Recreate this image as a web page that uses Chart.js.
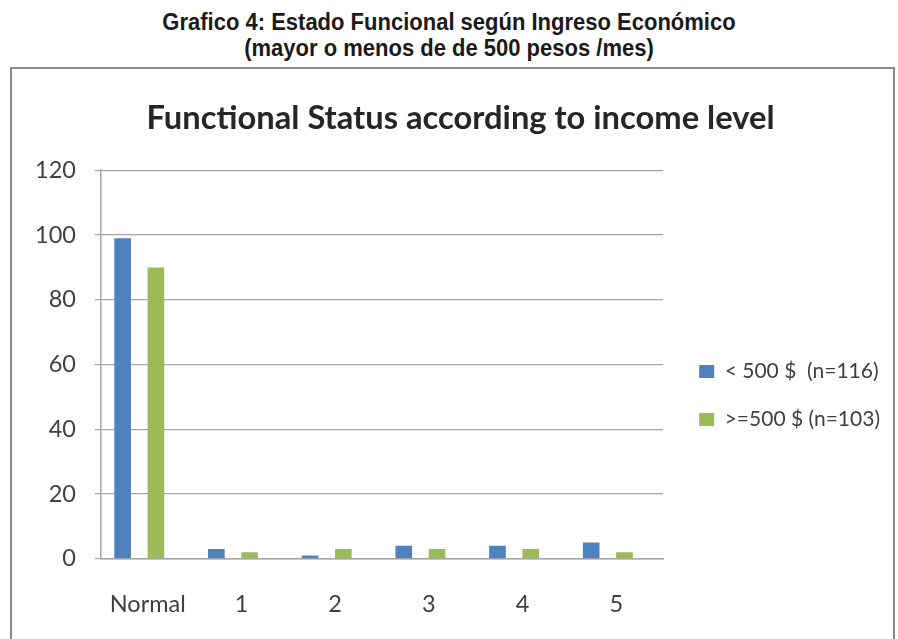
<!DOCTYPE html>
<html>
<head>
<meta charset="utf-8">
<script src="https://cdn.jsdelivr.net/npm/chart.js@4"></script>
<style>
  body { margin: 0; background: #fff; width: 898px; height: 639px; overflow: hidden; position: relative; }
  .titulo { position: absolute; left: 0; width: 898px; text-align: center; font-family: "Liberation Sans", Arial, sans-serif; font-weight: bold; font-size: 22px; line-height: 26px; color: #1a1a1a; transform: scaleY(1.08); }
  .caja { position: absolute; left: 10px; top: 67px; width: 881px; height: 600px; border: 2px solid #8a8a8a; background: #fff; }
  .caja canvas { position: absolute; left: 0; top: 0; }
</style>
</head>
<body>
<div class="titulo" style="top: 9px;">Grafico 4: Estado Funcional según Ingreso Económico</div>
<div class="titulo" style="top: 35px;">(mayor o menos de de 500 pesos /mes)</div>
<div class="caja"><canvas id="grafica" width="881" height="590"></canvas></div>
<script>
// Datos
const categorias = ["Normal", "1", "2", "3", "4", "5"];
const menos500 = [99, 3, 1, 4, 4, 5];
const mas500 = [90, 2, 3, 3, 3, 2];
const etiquetas = ["< 500 $  (n=116)", ">=500 $ (n=103)"];
const tituloGrafico = "Functional Status according to income level";

const fuente = "Lato, 'Open Sans', sans-serif";

// ajustes finos de posicion: leyenda mas abajo, titulo un poco a la izquierda
const ajustes = {
    id: 'ajustes',
    afterLayout(chart){
        chart.legend.left += 9;
        chart.legend.right += 9;
        chart.legend.top += 28;
        chart.legend.bottom += 28;
        chart.titleBlock.left += 12;
        chart.titleBlock.right += 12;
    },
    // en el original las barras quedan algo a la izquierda de su etiqueta
    beforeDatasetsDraw(chart){
        chart.ctx.save();
        chart.ctx.translate(-8.5, 0);
    },
    afterDatasetsDraw(chart){
        chart.ctx.restore();
    }
};

new Chart(document.getElementById("grafica"), {
    type: 'bar',
    data: {
        labels: categorias,
        datasets: [
            {
                label: etiquetas[0],
                data: menos500,
                backgroundColor: '#4F81BD',
                categoryPercentage: 0.71,
                barPercentage: 0.5
            },
            {
                label: etiquetas[1],
                data: mas500,
                backgroundColor: '#9BBB59',
                categoryPercentage: 0.71,
                barPercentage: 0.5
            }
        ]
    },
    options: {
        responsive: false,
        animation: false,
        layout: { padding: { left: 4, right: 12, top: 15, bottom: 8 } },
        plugins: {
            title: {
                display: true,
                text: tituloGrafico,
                color: '#262626',
                font: { family: fuente, size: 32.7 },
                padding: { top: 15, bottom: 32 }
            },
            legend: {
                position: 'right',
                align: 'center',
                maxWidth: 300,
                labels: {
                    color: '#404040',
                    font: { family: fuente, size: 21 },
                    boxWidth: 15,
                    boxHeight: 13,
                    padding: 27
                }
            },
            tooltip: { enabled: false }
        },
        scales: {
            x: {
                grid: { display: false, drawTicks: false },
                border: { color: '#a6a6a6', width: 1.5 },
                ticks: { color: '#404040', font: { family: fuente, size: 23.5 }, padding: 32 }
            },
            y: {
                min: 0,
                max: 120,
                ticks: { stepSize: 20, color: '#404040', font: { family: fuente, size: 23.5 }, padding: 19 },
                grid: { color: '#a6a6a6', lineWidth: 1.2, tickLength: 6 },
                border: { color: '#a6a6a6', width: 1.5 }
            }
        }
    },
    plugins: [ajustes]
});
</script>
</body>
</html>
